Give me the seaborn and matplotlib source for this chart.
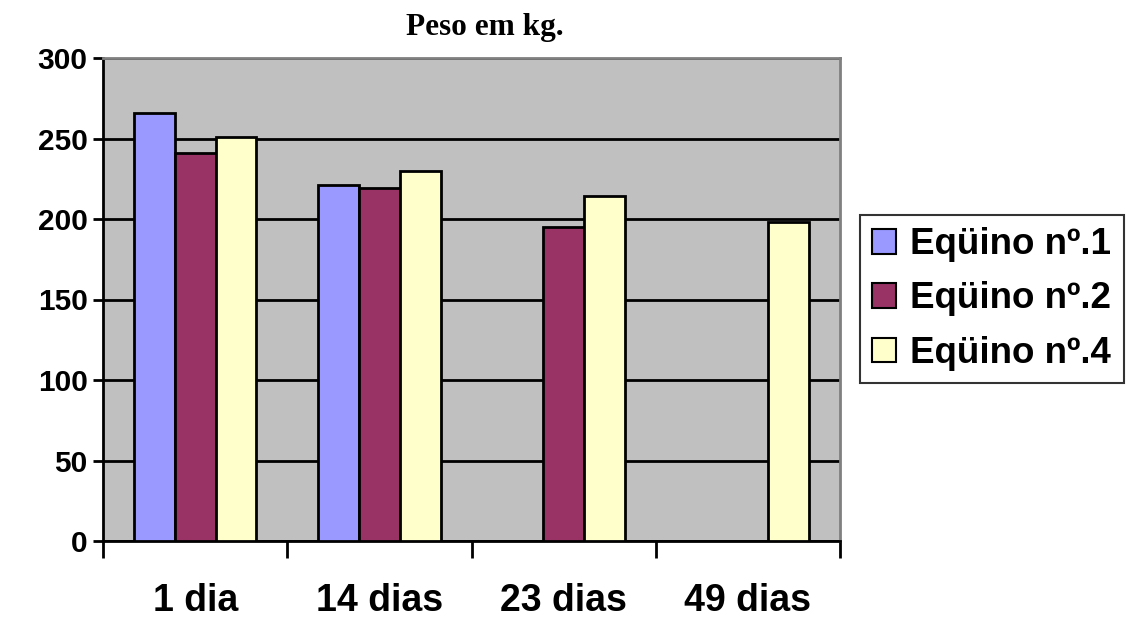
import matplotlib
matplotlib.use("Agg")
import matplotlib.pyplot as plt
import seaborn as sns
import pandas as pd
import numpy as np
from matplotlib.patches import Patch

categories = ["1 dia", "14 dias", "23 dias", "49 dias"]
series_names = ["Eqüino nº.1", "Eqüino nº.2", "Eqüino nº.4"]
equino1 = [266, 221, None, None]
equino2 = [241, 219, 195, None]
equino4 = [251, 230, 214, 198]
colors = ["#9999FF", "#993366", "#FFFFCC"]
y_ticks = [0, 50, 100, 150, 200, 250, 300]

rows = []
for name, vals in zip(series_names, [equino1, equino2, equino4]):
    for c, v in zip(categories, vals):
        if v is not None:
            rows.append({"Dia": c, "Série": name, "Peso": v})
df = pd.DataFrame(rows)

sns.set_theme(style="white")
plt.rcParams["font.family"] = ["Liberation Sans", "DejaVu Sans"]
plt.rcParams["text.color"] = "black"
plt.rcParams["xtick.color"] = "black"
plt.rcParams["ytick.color"] = "black"
plt.rcParams["xtick.labelcolor"] = "black"
plt.rcParams["ytick.labelcolor"] = "black"

fig = plt.figure(figsize=(11.28, 6.17), dpi=100)
ax = fig.add_axes([103/1128, 1 - 541/617, (840-103)/1128, (541-58)/617])
ax.set_facecolor("#C0C0C0")

sns.barplot(data=df, x="Dia", y="Peso", hue="Série", order=categories,
            hue_order=series_names, palette=colors, width=0.665,
            edgecolor="black", linewidth=2, saturation=1, ax=ax, legend=False,
            zorder=3)

ax.set_ylim(0, 300)
ax.set_xlim(-0.5, 3.5)
ax.set_yticks(y_ticks)
ax.yaxis.grid(True, color="black", linewidth=2, zorder=1)
ax.set_axisbelow(True)
ax.set_xlabel("")
ax.set_ylabel("")

ax.tick_params(axis="y", which="major", length=7, width=2, color="black",
               labelcolor="black", labelsize=21.5, pad=4, direction="out",
               left=True)
for lab in ax.get_yticklabels():
    lab.set_fontweight("bold")

ax.set_xticks(range(len(categories)))
ax.set_xticklabels(categories, fontsize=27, fontweight="bold", color="black")
ax.tick_params(axis="x", which="major", length=0, pad=30)
ax.set_xticks(np.arange(-0.5, len(categories), 1.0), minor=True)
ax.tick_params(axis="x", which="minor", length=12, width=2, color="black",
               direction="out", bottom=True)

for side in ["left", "bottom"]:
    ax.spines[side].set_color("black")
    ax.spines[side].set_linewidth(2)
for side in ["top", "right"]:
    ax.spines[side].set_color("#808080")
    ax.spines[side].set_linewidth(2)

fig.text(485/1128, 1 - 35/617, "Peso em kg.", fontsize=22.5, fontweight="bold",
         family=["Liberation Serif", "DejaVu Serif"], ha="center",
         va="baseline", color="black")

handles = [Patch(facecolor=c, edgecolor="black", linewidth=1.5) for c in colors]
leg = fig.legend(handles, series_names, loc="center left",
                 bbox_to_anchor=(860/1128, 1 - 299/617),
                 prop={"size": 26.5, "weight": "bold"}, frameon=True,
                 fancybox=False, edgecolor="black", handlelength=0.64,
                 handleheight=0.64, handletextpad=0.4, borderpad=0.33,
                 labelspacing=0.52, borderaxespad=0)
leg.get_frame().set_linewidth(1.5)
for t in leg.get_texts():
    t.set_color("black")

fig.savefig("out.png", dpi=100, facecolor="white")
